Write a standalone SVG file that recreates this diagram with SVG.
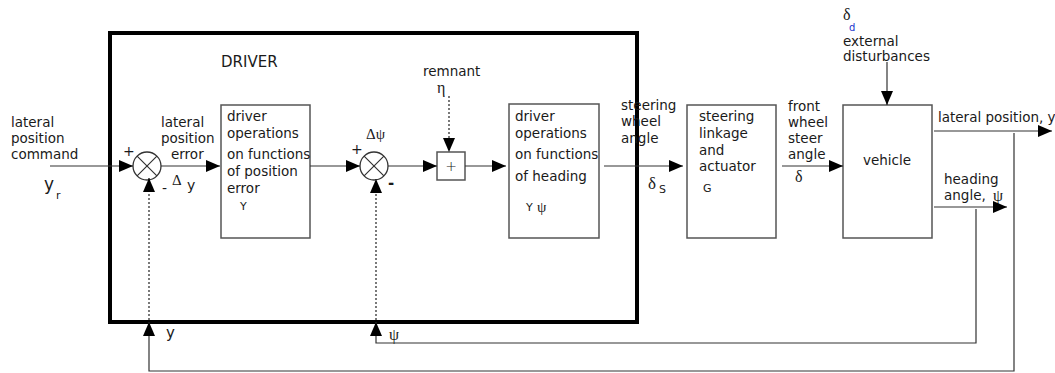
<svg xmlns="http://www.w3.org/2000/svg" width="1055" height="373" viewBox="0 0 1055 373">
<style>
text{font-family:"DejaVu Sans","Liberation Sans",sans-serif;font-size:13.5px;fill:#1a1a1a}
.g{font-family:"Liberation Serif","DejaVu Serif",serif;font-size:15px}
.box{fill:#fff;stroke:#555;stroke-width:1.5}
.ln{fill:none;stroke:#333;stroke-width:1.2}
.dot{fill:none;stroke:#222;stroke-width:1.2;stroke-dasharray:2 2}
.sum{fill:#fff;stroke:#333;stroke-width:1.3}
</style>
<defs>
<marker id="arr" viewBox="0 0 14 12" refX="14" refY="6" markerWidth="14" markerHeight="12" markerUnits="userSpaceOnUse" orient="auto">
<path d="M0,0 L14,6 L0,12 z" fill="#000"/>
</marker>
</defs>

<g id="driver">
<rect x="110" y="33" width="527" height="289" fill="none" stroke="#000" stroke-width="4"/>
<text x="221" y="67" style="font-size:15px">DRIVER</text>
</g>

<g id="input-label">
<text x="11" y="127">lateral</text>
<text x="11" y="143">position</text>
<text x="11" y="159">command</text>
<text x="44" y="190" style="font-size:17px">y</text>
<text x="56" y="199" style="font-size:11px">r</text>
</g>

<g id="sum1">
<circle class="sum" cx="147" cy="166" r="14"/>
<path class="ln" d="M137.1,156.1 L156.9,175.9 M156.9,156.1 L137.1,175.9"/>
<text x="123" y="156" style="font-size:14px">+</text>
<text x="162" y="193" style="font-size:14px">-</text>
</g>

<g id="error-label">
<text x="161" y="127">lateral</text>
<text x="161" y="143">position</text>
<text x="171" y="159">error</text>
<text x="172" y="185" class="g">Δ</text>
<text x="187" y="190" style="font-size:14px">y</text>
</g>

<g id="box1">
<rect class="box" x="221" y="105" width="89" height="133"/>
<text x="227" y="121">driver</text>
<text x="227" y="138">operations</text>
<text x="227" y="159">on functions</text>
<text x="227" y="176">of position</text>
<text x="227" y="193">error</text>
<text x="240" y="210" style="font-size:11px">Y</text>
</g>

<g id="sum2">
<circle class="sum" cx="374" cy="166" r="14"/>
<path class="ln" d="M364.1,156.1 L383.9,175.9 M383.9,156.1 L364.1,175.9"/>
<text x="366" y="139" class="g">Δψ</text>
<text x="351" y="154" style="font-size:14px">+</text>
<text x="388" y="188" style="font-size:15px;font-weight:bold">-</text>
</g>

<g id="remnant">
<text x="423" y="76">remnant</text>
<text x="437" y="93" class="g" style="font-size:16px">η</text>
</g>

<g id="plus">
<rect class="box" x="437" y="152" width="28" height="28" stroke="#222"/>
<text x="451" y="171" text-anchor="middle" style="font-size:14px;font-weight:300">+</text>
</g>

<g id="box2">
<rect class="box" x="509" y="104" width="90" height="134"/>
<text x="515" y="121">driver</text>
<text x="515" y="138">operations</text>
<text x="515" y="159">on functions</text>
<text x="515" y="181">of heading</text>
<text x="526" y="211" style="font-size:11px">Y</text>
<text x="537" y="212" class="g" style="font-size:15px">ψ</text>
</g>

<g id="sw-label">
<text x="621" y="110">steering</text>
<text x="621" y="126">wheel</text>
<text x="621" y="143">angle</text>
<text x="648" y="189" class="g" style="font-size:17px">δ</text>
<text x="659" y="193" style="font-size:11px">S</text>
</g>

<g id="box3">
<rect class="box" x="687" y="105" width="89" height="133"/>
<text x="699" y="121">steering</text>
<text x="699" y="138">linkage</text>
<text x="699" y="155">and</text>
<text x="699" y="171">actuator</text>
<text x="703" y="192" style="font-size:11px">G</text>
</g>

<g id="fw-label">
<text x="788" y="111">front</text>
<text x="788" y="127">wheel</text>
<text x="788" y="143">steer</text>
<text x="788" y="159">angle</text>
<text x="795" y="182" class="g" style="font-size:16px">δ</text>
</g>

<g id="vehicle">
<rect class="box" x="843" y="105" width="89" height="133"/>
<text x="887" y="165" text-anchor="middle">vehicle</text>
</g>

<g id="disturbance">
<text x="843" y="20" class="g" style="font-size:16px">δ</text>
<text x="849" y="31" style="font-size:10px;fill:#2233cc">d</text>
<text x="843" y="46">external</text>
<text x="843" y="61">disturbances</text>
</g>

<g id="outputs">
<text x="938" y="122">lateral position, y</text>
<text x="944" y="184">heading</text>
<text x="944" y="200">angle,</text>
<text x="993" y="201" class="g" style="font-size:16px">ψ</text>
<text x="166" y="338" style="font-size:15px">y</text>
<text x="389" y="340" class="g" style="font-size:16px">ψ</text>
</g>

<g id="connectors">
<line class="ln" x1="50" y1="166" x2="133" y2="166" marker-end="url(#arr)"/>
<line class="ln" x1="161" y1="166" x2="220" y2="166" marker-end="url(#arr)"/>
<line class="ln" x1="310" y1="166" x2="360" y2="166" marker-end="url(#arr)"/>
<line class="ln" x1="388" y1="166" x2="437" y2="166" marker-end="url(#arr)"/>
<line class="ln" x1="465" y1="166" x2="506" y2="166" marker-end="url(#arr)"/>
<line class="ln" x1="604" y1="166" x2="683" y2="166" marker-end="url(#arr)"/>
<line class="ln" x1="782" y1="166" x2="843" y2="166" marker-end="url(#arr)"/>
<line class="ln" x1="887" y1="62" x2="887" y2="105" marker-end="url(#arr)"/>
<line class="ln" x1="934" y1="131" x2="1052" y2="131" marker-end="url(#arr)"/>
<line class="ln" x1="934" y1="207" x2="1007" y2="207" marker-end="url(#arr)"/>
<polyline class="ln" points="976,209 976,343 376,343 376,322" marker-end="url(#arr)"/>
<polyline class="ln" points="1014,133 1014,371 149,371 149,322" marker-end="url(#arr)"/>
<line class="dot" x1="149" y1="320" x2="149" y2="178" marker-end="url(#arr)"/>
<line class="dot" x1="376" y1="320" x2="376" y2="179" marker-end="url(#arr)"/>
<line class="dot" x1="449" y1="96" x2="449" y2="152" marker-end="url(#arr)"/>
</g>
</svg>
